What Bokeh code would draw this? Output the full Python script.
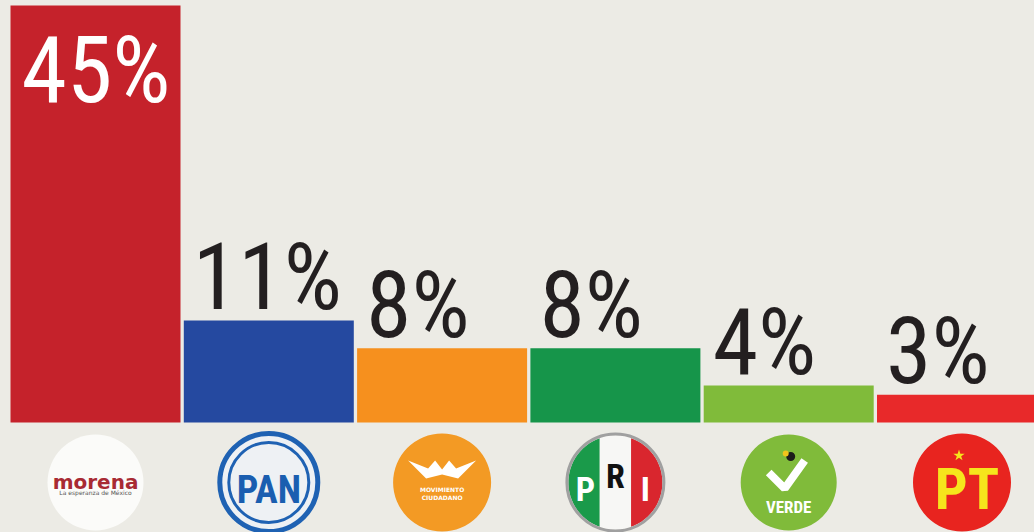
import numpy as np
from bokeh.plotting import figure
from bokeh.core.properties import value
from bokeh.embed import file_html
from bokeh.resources import INLINE

# ---- data ----
parties = ["morena", "PAN", "MC", "PRI", "VERDE", "PT"]
shares = [45, 11, 8, 8, 4, 3]
labels = ["45%", "11%", "8%", "8%", "4%", "3%"]
bar_colors = ["#c5222b", "#2549a0", "#f6901e", "#16954a", "#80bb3a", "#e8292a"]

BG = "#ecebe5"
W, H = 1034, 532
PITCH = 173.3          # px per category
SY = 9.267             # px per percentage point
X0 = -95 / PITCH
Y0 = -110 / SY
BAR_W = 170 / PITCH
FONT = "'Roboto Condensed', 'DejaVu Sans Condensed', sans-serif"
LBL_SIZE = 92
SHIFT = 0.36 * LBL_SIZE   # baseline correction of the svg text

def dx(px):
    return px / PITCH

def dy(px):  # screen px (down positive) -> data
    return -px / SY

p = figure(width=W, height=H, x_range=(X0, X0 + W / PITCH), y_range=(Y0, Y0 + H / SY),
           output_backend="svg", toolbar_location=None, min_border=0,
           background_fill_color=BG, border_fill_color=BG, outline_line_color=None)
p.axis.visible = False
p.grid.visible = False

xs = np.arange(len(parties), dtype=float)
vals = np.array(shares, dtype=float)

p.vbar(x=xs, top=vals, bottom=0, width=BAR_W, fill_color=bar_colors, line_color=None)

# labels
top_i = int(np.argmax(vals))
others = [i for i in range(len(vals)) if i != top_i]
p.text(x=[xs[top_i] - BAR_W / 2], y=[vals[top_i]], text=[labels[top_i]],
       x_offset=11, y_offset=98 - SHIFT, text_color="white", text_font=value(FONT),
       text_font_size=f"{LBL_SIZE}px", text_baseline="alphabetic", text_align="left")
p.text(x=[xs[i] - BAR_W / 2 for i in others], y=[vals[i] for i in others],
       text=[labels[i] for i in others], x_offset=9, y_offset=-10 - SHIFT,
       text_color="#231f20", text_font=value(FONT), text_font_size=f"{LBL_SIZE}px",
       text_baseline="alphabetic", text_align="left")

# ---- logos ----
LY = Y0 + (H - 482) / SY
R = 48

# morena
cx = xs[0]
p.scatter(x=[cx], y=[LY], marker="circle", size=2 * R, fill_color="#fbfbf9", line_color=None)
p.text(x=[cx], y=[LY + dy(-1)], text=["morena"], text_color="#a82a33",
       text_font=value("DejaVu Sans"), text_font_style="bold", text_font_size="20px",
       text_align="center", text_baseline="alphabetic")
p.text(x=[cx], y=[LY + dy(10)], text=["La esperanza de México"], text_color="#555555",
       text_font=value("DejaVu Sans"), text_font_size="6px",
       text_align="center", text_baseline="alphabetic")

# PAN
cx = xs[1]
p.scatter(x=[cx], y=[LY], marker="circle", size=2 * R + 2, fill_color="#eef1f4",
          line_color="#1f62b3", line_width=5)
p.scatter(x=[cx], y=[LY], marker="circle", size=2 * R - 16, fill_color=None,
          line_color="#1f62b3", line_width=3)
p.text(x=[cx], y=[LY + dy(7)], text=["PAN"], text_color="#1a5eb0",
       text_font=value(FONT), text_font_style="bold", text_font_size="38px",
       text_align="center", text_baseline="alphabetic")

# MC
cx = xs[2]
p.scatter(x=[cx], y=[LY], marker="circle", size=2 * R + 2, fill_color="#f39a24", line_color=None)
eagle = [(-34, -22), (-14, -14), (-7, -22), (0, -13), (7, -22), (14, -14), (34, -22),
         (16, -4), (0, -8), (-16, -4)]
p.patch(x=[cx + dx(a) for a, b in eagle], y=[LY + dy(b) for a, b in eagle],
        fill_color="white", line_color=None)
p.text(x=[cx, cx], y=[LY + dy(7), LY + dy(15)], text=["MOVIMIENTO", "CIUDADANO"],
       text_color="white", text_font=value("DejaVu Sans"), text_font_style="bold",
       text_font_size="6px", text_align="center", text_baseline="alphabetic")

# PRI
cx = xs[3]
r = R - 1
a1 = np.degrees(np.arccos(1 / 3))
def arc(t0, t1, n=30):
    t = np.radians(np.linspace(t0, t1, n))
    return list(np.cos(t) * r), list(np.sin(t) * r)
lx, ly = arc(180 - a1, 180 + a1)
mx1, my1 = arc(a1, 180 - a1)
mx2, my2 = arc(180 + a1, 360 - a1)
rx, ry = arc(-a1, a1)
segs = [(lx, ly, "#1a9a4a"), (mx1 + mx2, my1 + my2, "#f7f7f5"), (rx, ry, "#d9262e")]
for sx, sy_, col in segs:
    p.patch(x=[cx + dx(v) for v in sx], y=[LY - dy(v) for v in sy_],
            fill_color=col, line_color=None)
p.scatter(x=[cx], y=[LY], marker="circle", size=2 * r + 3, fill_color=None,
          line_color="#a0a0a0", line_width=3)
p.text(x=[cx + dx(-30), cx, cx + dx(30)], y=[LY + dy(6), LY + dy(-7), LY + dy(6)],
       text=["P", "R", "I"], text_color=["white", "#111111", "white"],
       text_font=value(FONT), text_font_style="bold", text_font_size="34px",
       text_align="center", text_baseline="alphabetic")

# VERDE
cx = xs[4]
p.scatter(x=[cx], y=[LY], marker="circle", size=2 * R, fill_color="#80bb3a", line_color=None)
p.line(x=[cx + dx(-20), cx + dx(-4), cx + dx(16)], y=[LY + dy(-10), LY + dy(6), LY + dy(-22)],
       line_color="white", line_width=8)
p.scatter(x=[cx + dx(2)], y=[LY + dy(-26)], marker="circle", size=9, fill_color="#1d1d1b", line_color=None)
p.scatter(x=[cx + dx(-3)], y=[LY + dy(-29)], marker="circle", size=6, fill_color="#f2c41b", line_color=None)
p.text(x=[cx], y=[LY + dy(24)], text=["VERDE"], text_color="white",
       text_font=value(FONT), text_font_style="bold", text_font_size="17px",
       text_align="center", text_baseline="alphabetic")

# PT
cx = xs[5]
p.scatter(x=[cx], y=[LY], marker="circle", size=2 * R + 2, fill_color="#e8241f", line_color=None)
p.text(x=[cx + dx(5)], y=[LY + dy(6)], text=["PT"], text_color="#f6e51c",
       text_font=value(FONT), text_font_style="bold", text_font_size="58px",
       text_align="center", text_baseline="alphabetic")
p.scatter(x=[cx + dx(-3)], y=[LY + dy(-27)], marker="star", size=12,
          fill_color="#f6e51c", line_color=None)

TEMPLATE = """{% block preamble %}<style>html, body { background-color: #ecebe5; }</style>{% endblock %}"""
open("out.html", "w").write(file_html(p, INLINE, template=TEMPLATE))
